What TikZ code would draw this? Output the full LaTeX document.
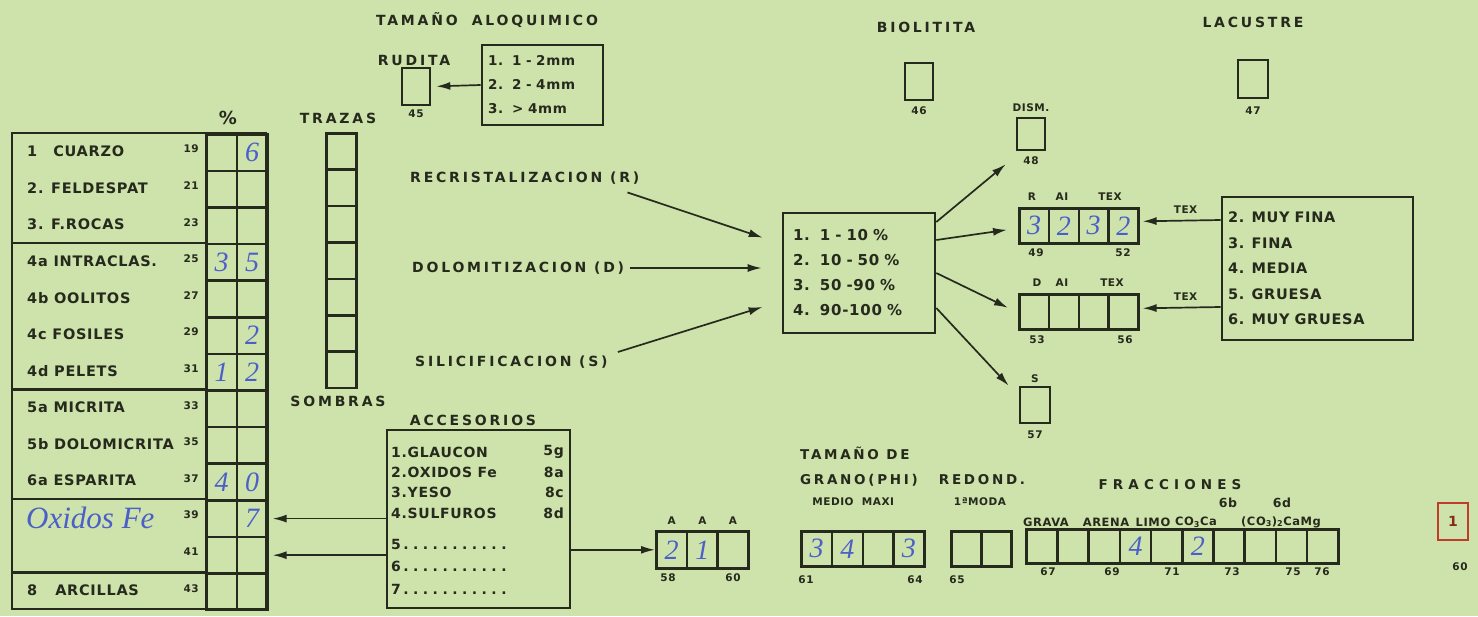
\documentclass[tikz,border=0pt]{standalone}
\usepackage{fontspec}
\setmainfont{DejaVu Sans}
\newfontfamily\formfont[LetterSpace=5]{DejaVu Sans}
\newfontfamily\procfont[LetterSpace=20]{DejaVu Sans}
\newfontfamily\widefont[LetterSpace=38]{DejaVu Sans}
\newfontfamily\handfont{Liberation Serif}
\usetikzlibrary{arrows.meta, positioning}
\definecolor{PaperGreen}{RGB}{206,226,172}
\definecolor{InkDark}{RGB}{38,42,28}
\definecolor{PenBlue}{RGB}{75,95,200}
\definecolor{StampRed}{RGB}{190,60,40}
\newcommand{\dotrow}[1]{#1\hbox to 108pt{\xleaders\hbox to 9.5pt{\hss.\hss}\hfill}}
\tikzset{
  >=latex,
  % casillas del formulario
  cell/.style={draw=InkDark,line width=2.6pt,minimum width=30.5pt,minimum height=36.6pt,inner sep=0,anchor=north west},
  box/.style={draw=InkDark,line width=2.6pt,minimum width=28pt,minimum height=37pt,inner sep=0},
  frame/.style={draw=InkDark,line width=2.6pt},
  % textos
  lbl/.style={font=\formfont\bfseries\fontsize{14.5}{25}\selectfont,text=InkDark,inner sep=0},
  num/.style={font=\formfont\bfseries\fontsize{10.5}{12}\selectfont,text=InkDark,inner sep=0},
  hdr/.style={font=\procfont\bfseries\fontsize{14}{25}\selectfont,text=InkDark,inner sep=0},
  ttl/.style={font=\widefont\bfseries\fontsize{13.5}{15}\selectfont,text=InkDark,inner sep=0},
  hw/.style={font=\handfont\itshape\fontsize{28}{28}\selectfont,text=PenBlue,inner sep=0},
  % flechas
  arr/.style={-{Latex[length=14pt,width=8pt]},line width=1.7pt,draw=InkDark}
}
\begin{document}
\begin{tikzpicture}[x=1pt,y=-1pt]
\fill[PaperGreen] (0,0) rectangle (1478,616);
\useasboundingbox (0,0) rectangle (1478,616);

% tabla de componentes
\draw[frame] (12,133) rectangle (266,608.8);
\foreach \r in {3,7,10,12} \draw[frame] (12,133+\r*36.6) -- (205,133+\r*36.6);
\foreach \code/\txt [count=\r from 0] in {19/{1\hspace{16pt}CUARZO},21/{2. FELDESPAT},23/{3. F.ROCAS},
    25/{4a INTRACLAS.},27/{4b OOLITOS},29/{4c FOSILES},31/{4d PELETS},33/{5a MICRITA},
    35/{5b DOLOMICRITA},37/{6a ESPARITA},39/{},41/{},43/{8\hspace{18pt}ARCILLAS}}{
  \node[cell] (pa\code) at (205,133+\r*36.6) {};
  \node[cell] (pb\code) at (235.5,133+\r*36.6) {};
  \node[lbl,anchor=west] (tx\code) at (27,151.3+\r*36.6) {\txt};
  \node[num,anchor=east] (nm\code) at (199,149+\r*36.6) {\code};
}
\node[lbl,font=\formfont\bfseries\fontsize{18}{20}\selectfont] (psign) at (228,118) {\%};
\node[hw] (h19b) at (pb19) {6};
\node[hw] (h25a) at (pa25) {3};
\node[hw] (h25b) at (pb25) {5};
\node[hw] (h29b) at (pb29) {2};
\node[hw] (h31a) at (pa31) {1};
\node[hw] (h31b) at (pb31) {2};
\node[hw] (h37a) at (pa37) {4};
\node[hw] (h37b) at (pb37) {0};
\node[hw] (h39b) at (pb39) {7};
\node[hw,anchor=west,font=\handfont\itshape\fontsize{31}{31}\selectfont] (h39t) at (26,518) {Oxidos Fe};

% trazas
\node[hdr] (trzt) at (338,118) {TRAZAS};
\foreach \i in {0,...,6}
  \node[cell,minimum width=30pt,minimum height=36.4pt] (tz\i) at (325,132+\i*36.4) {};
\node[hdr] (sombt) at (338,401) {SOMBRAS};

% tamano aloquimico
\node[hdr] (tamt) at (487,20) {TAMAÑO\hspace{14pt}ALOQUIMICO};
\node[hdr] (rudt) at (414,60) {RUDITA};
\node[box] (rud) at (416,86.5) {};
\node[num] (n45) at (416,114) {45};
\node[frame,lbl,inner sep=6pt,text width=109pt,minimum height=80pt,align=left,
  font=\formfont\bfseries\fontsize{13.5}{24}\selectfont] (tam) at (542.5,85) {1.\ \ 1 - 2mm\\2.\ \ 2 - 4mm\\3.\ \ > 4mm};
\draw[arr,shorten >=5pt] (tam.west) -- (rud.east);

% biolitita, lacustre
\node[hdr] (biot) at (926,27) {BIOLITITA};
\node[box] (bio) at (919,81.5) {};
\node[num] (n46) at (919,111) {46};
\node[hdr] (lact) at (1253,22) {LACUSTRE};
\node[box,minimum width=30pt,minimum height=38pt] (lac) at (1253,79) {};
\node[num] (n47) at (1253,111) {47};

% procesos
\node[hdr,anchor=west] (recr) at (410,178) {RECRISTALIZACION (R)};
\node[hdr,anchor=west] (dolo) at (412,268) {DOLOMITIZACION (D)};
\node[hdr,anchor=west] (sili) at (415,362) {SILICIFICACION (S)};
\node[frame,lbl,inner sep=10pt,text width=132pt,minimum height=120pt,align=left,
  font=\formfont\bfseries\fontsize{15}{25}\selectfont] (pct) at (859,273)
  {1.\ \ 1 - 10 \%\\2.\ \ 10 - 50 \%\\3.\ \ 50 -90 \%\\4.\ \ 90-100 \%};
\draw[arr,shorten >=20pt] ([xshift=-12pt,yshift=-8pt]recr.south east) -- ([yshift=29pt]pct.west);
\draw[arr,shorten >=20pt] ([xshift=6pt]dolo.east) -- ([yshift=5pt]pct.west);
\draw[arr,shorten >=20pt] ([xshift=10pt,yshift=10pt]sili.east) -- ([yshift=-28pt]pct.west);

% salidas
\node[num] (dist) at (1031,108) {DISM.};
\node[box,minimum height=32pt] (dism) at (1031,134) {};
\node[num] (n48) at (1031,161) {48};
\foreach \i in {1,...,4} {
  \node[cell,minimum width=29.75pt,minimum height=35pt] (rai\i) at (988.25+29.75*\i,207) {};
  \node[cell,minimum width=29.75pt,minimum height=35pt] (dai\i) at (988.25+29.75*\i,293) {};
}
\node[num] (rl1) at (1032,197) {R};
\node[num] (rl2) at (1062,197) {AI};
\node[num] (rl3) at (1110,197) {TEX};
\node[num] (n49) at (1036,253) {49};
\node[num] (n52) at (1123,253) {52};
\node[hw] (h49) at (rai1) {3};
\node[hw] (h50) at (rai2) {2};
\node[hw] (h51) at (rai3) {3};
\node[hw] (h52) at (rai4) {2};
\node[num] (dl1) at (1037,283) {D};
\node[num] (dl2) at (1062,283) {AI};
\node[num] (dl3) at (1112,283) {TEX};
\node[num] (n53) at (1037,340) {53};
\node[num] (n56) at (1125,340) {56};
\node[num] (sl) at (1035,379) {S};
\node[box,minimum width=30pt,minimum height=36pt] (sbx) at (1035,405) {};
\node[num] (n57) at (1035,435) {57};
\draw[arr] ([yshift=51pt]pct.east) -- ([xshift=-10pt,yshift=-13pt]dism.south west);
\draw[arr] ([yshift=33pt]pct.east) -- ([xshift=-11pt,yshift=-4pt]rai1.west);
\draw[arr] (pct.east) -- ([xshift=-10pt,yshift=4pt]dai1.west);
\draw[arr] ([yshift=-35pt]pct.east) -- ([xshift=-10pt]sbx.north west);

% textura
\node[frame,lbl,inner sep=6pt,text width=179pt,minimum height=143pt,align=left,
  font=\formfont\bfseries\fontsize{14.5}{25.5}\selectfont] (texb) at (1317.5,268.5)
  {2. MUY FINA\\3. FINA\\4. MEDIA\\5. GRUESA\\6. MUY GRUESA};
\draw[arr] ([yshift=48.5pt]texb.west) -- ([xshift=3pt,yshift=4.5pt]rai4.east) node[num,pos=0.45,above=6pt] (tex1) {TEX};
\draw[arr] ([yshift=-38.5pt]texb.west) -- ([xshift=3pt,yshift=3.5pt]dai4.east) node[num,pos=0.45,above=6pt] (tex2) {TEX};

% accesorios
\node[hdr] (acct) at (473,420) {ACCESORIOS};
\node[frame,minimum width=183pt,minimum height=178pt] (acc) at (478.5,519) {};
\foreach \t/\c/\y [count=\i] in {1.GLAUCON/5g/452,2.OXIDOS Fe/8a/472,3.YESO/8c/492,4.SULFUROS/8d/513,
    \dotrow{5}/{}/544,\dotrow{6}/{}/566,\dotrow{7}/{}/589} {
  \node[lbl,anchor=west,font=\formfont\bfseries\fontsize{14}{15}\selectfont] (acl\i) at (391,\y) {\t};
  \node[lbl,anchor=east,font=\formfont\bfseries\fontsize{14}{15}\selectfont] (acd\i) at (564,\y) {\c};
}
\draw[arr,shorten >=4pt] (acc.west |- pb39) -- (pb39.east);
\draw[arr,shorten >=4pt] (acc.west |- pb41) -- (pb41.east);
\foreach \i in {1,2,3} {
  \node[cell,minimum width=30.7pt,minimum height=37pt] (aa\i) at (624.3+30.7*\i,530) {};
  \node[num,above=5pt of aa\i] (aal\i) {A};
}
\node[num] (n58) at (668,578) {58};
\node[num] (n60a) at (733,578) {60};
\node[hw] (h58) at (aa1) {2};
\node[hw] (h59) at (aa2) {1};
\draw[arr] (acc.east |- aa1) -- (aa1.west);

% tamano de grano
\node[hdr,anchor=west,align=left,font=\procfont\bfseries\fontsize{13.5}{25}\selectfont] (grt) at (800,467) {TAMAÑO DE\\GRANO(PHI)};
\node[num] (grl1) at (833,502) {MEDIO};
\node[num] (grl2) at (878,502) {MAXI};
\foreach \i in {1,...,4}
  \node[cell,minimum width=30.75pt,minimum height=35pt] (gr\i) at (769.25+30.75*\i,530) {};
\node[num] (n61) at (806,580) {61};
\node[num] (n64) at (915,580) {64};
\node[hw] (h61) at (gr1) {3};
\node[hw] (h62) at (gr2) {4};
\node[hw] (h64) at (gr4) {3};

% redondez
\node[hdr,font=\procfont\bfseries\fontsize{13.5}{25}\selectfont] (rdt) at (982,480) {REDOND.};
\node[num] (rdl) at (980,502) {1ªMODA};
\foreach \i in {1,2}
  \node[cell,minimum width=30pt,minimum height=35pt] (rd\i) at (920+30*\i,530) {};
\node[num] (n65) at (957,580) {65};

% fracciones
\node[ttl] (frt) at (1170,485) {FRACCIONES};
\node[num,font=\formfont\bfseries\fontsize{12.5}{14}\selectfont] (f6b) at (1228,503) {6b};
\node[num,font=\formfont\bfseries\fontsize{12.5}{14}\selectfont] (f6d) at (1282,503) {6d};
\node[num,font=\formfont\bfseries\fontsize{11.5}{12}\selectfont] (frl1) at (1046,522) {GRAVA};
\node[num,font=\formfont\bfseries\fontsize{11.5}{12}\selectfont] (frl2) at (1106,522) {ARENA};
\node[num,font=\formfont\bfseries\fontsize{11.5}{12}\selectfont] (frl3) at (1153,522) {LIMO};
\node[num,font=\formfont\bfseries\fontsize{11.5}{12}\selectfont] (frl4) at (1196,522) {CO\textsubscript{3}Ca};
\node[num,font=\formfont\bfseries\fontsize{11.5}{12}\selectfont] (frl5) at (1281,522) {(CO\textsubscript{3})\textsubscript{2}CaMg};
\foreach \i in {1,...,10}
  \node[cell,minimum width=31.2pt,minimum height=34pt] (fr\i) at (993.8+31.2*\i,528) {};
\foreach \n/\x in {67/1048,69/1112,71/1172,73/1232,75/1293,76/1322}
  \node[num] (n\n) at (\x,572) {\n};
\node[hw] (h70) at (fr4) {4};
\node[hw] (h72) at (fr6) {2};

% hoja
\node[box,draw=StampRed,minimum width=30pt,minimum height=37pt,text=StampRed!70!black,
  font=\formfont\bfseries\fontsize{14}{16}\selectfont] (pg) at (1453,521.5) {1};
\node[num] (n60b) at (1460,567) {60};
\end{tikzpicture}
\end{document}
